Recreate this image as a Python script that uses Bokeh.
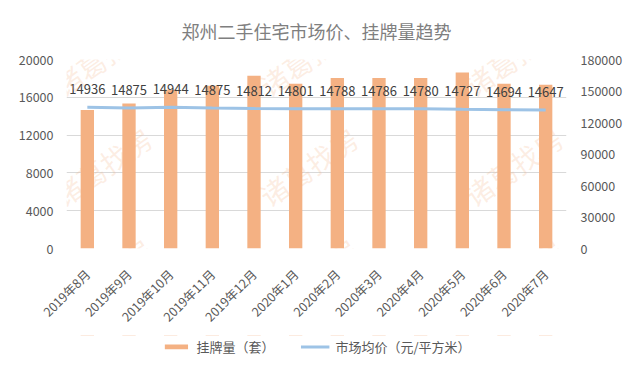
import math
from bokeh.plotting import figure
from bokeh.layouts import column
from bokeh.models import (Range1d, LinearAxis, FixedTicker, ColumnDataSource, LabelSet,
                          Legend, LegendItem, Label, FactorRange, BasicTickFormatter)
from bokeh.core.properties import value
from bokeh.embed import file_html
from bokeh.resources import INLINE

months = ["2019年8月", "2019年9月", "2019年10月", "2019年11月", "2019年12月", "2020年1月",
          "2020年2月", "2020年3月", "2020年4月", "2020年5月", "2020年6月", "2020年7月"]
listings = [132000, 138200, 151200, 155000, 164500, 156800, 162400, 162400, 162400, 167600, 156800, 155900]
prices = [14936, 14875, 14944, 14875, 14812, 14801, 14788, 14786, 14780, 14727, 14694, 14647]
left_ticks = [0, 4000, 8000, 12000, 16000, 20000]
right_ticks = [0, 30000, 60000, 90000, 120000, 150000, 180000]

FONT = "Noto Sans CJK SC"
W = 625
H_MAIN, H_LEG = 335, 22
BAR_COLOR, LINE_COLOR = "#F4B183", "#9DC3E6"

src = ColumnDataSource(dict(m=months, cnt=listings, price=prices,
                            price_txt=[str(v) for v in prices]))

p = figure(x_range=FactorRange(*months), y_range=Range1d(0, 20000),
           width=W, height=H_MAIN, output_backend="svg", toolbar_location=None,
           min_border_left=66, min_border_right=57, min_border_top=55,
           min_border_bottom=H_MAIN - 249)
p.extra_y_ranges = {"cnt": Range1d(0, 180000)}
p.outline_line_color = None
p.background_fill_color = "white"
p.border_fill_color = "white"

p.title.text = "郑州二手住宅市场价、挂牌量趋势"
p.title.align = "center"
p.title.text_font = FONT
p.title.text_font_size = "18px"
p.title.text_font_style = "normal"
p.title.text_color = "#7F7F7F"
p.title.standoff = 31

bars = p.vbar(x="m", top="cnt", width=0.32, y_range_name="cnt", source=src,
              fill_color=BAR_COLOR, line_color=None)
line = p.line(x="m", y="price", source=src, line_color=LINE_COLOR, line_width=3)

p.add_layout(LabelSet(x="m", y="price", text="price_txt", source=src, text_align="center",
                      text_baseline="bottom", y_offset=13, text_font_size="13px",
                      text_color="#404040", text_font=value(FONT)))

p.yaxis.ticker = FixedTicker(ticks=left_ticks)
raxis = LinearAxis(y_range_name="cnt", ticker=FixedTicker(ticks=right_ticks),
                   formatter=BasicTickFormatter(use_scientific=False))
p.add_layout(raxis, "right")

for ax in [p.yaxis[0], raxis, p.xaxis[0]]:
    ax.axis_line_color = None
    ax.major_tick_line_color = None
    ax.minor_tick_line_color = None
    ax.major_label_text_font = FONT
    ax.major_label_text_font_size = "12.5px"
    ax.major_label_text_color = "#595959"
for ax in [p.yaxis[0], raxis]:
    ax.major_tick_out = 0
    ax.major_tick_in = 0
p.yaxis[0].major_label_standoff = 13
raxis.major_label_standoff = 14
xax = p.xaxis[0]
xax.major_label_orientation = math.pi / 4
xax.major_label_standoff = 17

p.xgrid.grid_line_color = None
p.ygrid.grid_line_color = "#D9D9D9"
p.ygrid.ticker = FixedTicker(ticks=left_ticks)

# watermark (screen units relative to the frame's bottom-left)
wm_x = [36, 242, 447]
wm_y = [192, 82, -29]
for x in wm_x:
    for y in wm_y:
        p.add_layout(Label(x=x, y=y, x_units="screen", y_units="screen", text="诸葛找房",
                           angle=35 * math.pi / 180, text_align="center", text_baseline="middle",
                           text_font=FONT, text_font_size="28px",
                           text_color=BAR_COLOR, text_alpha=0.22, level="overlay"))

# legend strip below the chart; its proxy renderers lie outside its (empty) view
pl = figure(width=W, height=H_LEG, output_backend="svg", toolbar_location=None,
            min_border_left=16, min_border_right=0, min_border_top=0, min_border_bottom=0,
            x_range=FactorRange(*months), y_range=Range1d(-2, -1))
pl.axis.visible = False
pl.grid.visible = False
pl.outline_line_color = None
pl.border_fill_color = "white"
leg_bar = pl.vbar(x="m", top="cnt", width=0.32, source=src, fill_color=BAR_COLOR, line_color=None)
leg_line = pl.line(x="m", y="price", source=src, line_color=LINE_COLOR, line_width=3)
legend = Legend(items=[LegendItem(label="挂牌量（套）", renderers=[leg_bar]),
                       LegendItem(label="市场均价（元/平方米）", renderers=[leg_line])],
                location="center", orientation="horizontal",
                padding=0, margin=0, spacing=26, label_standoff=6,
                glyph_width=29, glyph_height=6, label_height=18,
                label_text_font=FONT, label_text_font_size="13px", label_text_color="#595959",
                border_line_color=None, background_fill_alpha=0)
pl.add_layout(legend)

layout = column(p, pl, spacing=0)
open("out.html", "w").write(file_html(layout, INLINE))
